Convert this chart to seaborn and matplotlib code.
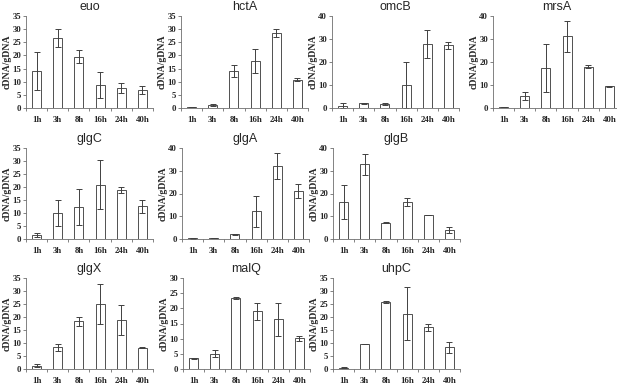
import numpy as np
import pandas as pd
import matplotlib
matplotlib.use('Agg')
import matplotlib.pyplot as plt
import seaborn as sns

# time points
hours = ['1h', '3h', '8h', '16h', '24h', '40h']

# mean cDNA/gDNA and error per gene
euo = [14.0, 26.7, 19.5, 8.8, 7.6, 6.7]
euo_err = [7.3, 3.4, 2.5, 5.0, 2.0, 1.5]
hctA = [0.4, 1.0, 14.0, 18.0, 28.5, 10.7]
hctA_err = [0.1, 0.4, 2.2, 4.6, 1.6, 0.6]
omcB = [1.0, 2.0, 1.7, 10.1, 27.8, 27.2]
omcB_err = [1.2, 0.1, 0.4, 10.0, 5.9, 1.5]
mrsA = [0.4, 5.2, 17.4, 31.1, 18.0, 9.5]
mrsA_err = [0.1, 1.6, 10.3, 6.7, 0.6, 0.2]
glgC = [1.6, 10.1, 12.4, 20.9, 18.9, 12.6]
glgC_err = [0.8, 5.0, 7.0, 9.3, 1.1, 2.5]
glgA = [0.3, 0.4, 2.0, 12.1, 32.2, 21.1]
glgA_err = [0.1, 0.1, 0.3, 6.7, 5.8, 3.1]
glgB = [16.1, 32.8, 7.2, 16.1, 10.5, 4.0]
glgB_err = [7.5, 4.6, 0.3, 1.8, 0.1, 1.4]
glgX = [1.3, 8.3, 18.3, 25.1, 18.9, 8.1]
glgX_err = [0.5, 1.2, 1.6, 7.6, 5.8, 0.2]
malQ = [3.5, 5.0, 23.5, 19.0, 16.4, 10.1]
malQ_err = [0.2, 1.1, 0.3, 2.9, 5.5, 0.8]
uhpC = [0.5, 9.7, 25.7, 21.2, 16.0, 8.3]
uhpC_err = [0.2, 0.1, 0.4, 10.2, 1.5, 2.1]

genes = ['euo', 'hctA', 'omcB', 'mrsA', 'glgC', 'glgA', 'glgB', 'glgX', 'malQ', 'uhpC']
values = [euo, hctA, omcB, mrsA, glgC, glgA, glgB, glgX, malQ, uhpC]
errors = [euo_err, hctA_err, omcB_err, mrsA_err, glgC_err, glgA_err, glgB_err,
          glgX_err, malQ_err, uhpC_err]
ymax = [35, 35, 40, 40, 35, 40, 40, 35, 30, 35]
ystep = [5, 5, 10, 10, 5, 10, 10, 5, 5, 5]

sns.set_style('white')

W, H = 617, 386
fig = plt.figure(figsize=(W / 100, H / 100), dpi=100)

# panel boxes in pixels: (left spine x, top of y range, zero line y)
boxes = [(26, 16, 108), (181, 16, 108), (332, 16, 108), (493, 16, 108),
         (26, 148, 239), (182, 148, 239), (333, 148, 239),
         (26, 278, 369), (183, 278, 369), (333, 278, 369)]
pw = 127

edge = '#6e6e6e'

for gene, vals, errs, top, step, (lx, ty, by) in zip(genes, values, errors, ymax, ystep, boxes):
    ax = fig.add_axes([lx / W, 1 - by / H, pw / W, (by - ty) / H])
    df = pd.DataFrame({'time': hours, 'val': vals})
    sns.barplot(data=df, x='time', y='val', ax=ax, color='white',
                edgecolor='#505050', linewidth=0.7, width=0.42, errorbar=None)
    ax.errorbar(np.arange(len(hours)), vals, yerr=errs, fmt='none',
                ecolor='#404040', elinewidth=0.7, capsize=2, capthick=0.7)
    ax.set_xlim(-0.5, 5.5)
    ax.set_ylim(0, top)
    ax.set_yticks(np.arange(0, top + 1, step))
    ax.set_xticks(np.arange(-0.5, 6, 1), minor=True)
    ax.tick_params(axis='x', which='major', length=0, pad=6)
    ax.tick_params(axis='x', which='minor', length=2, width=0.6, color=edge, direction='out')
    ax.tick_params(axis='y', length=2, width=0.6, color=edge, direction='out', pad=1.5)
    ax.xaxis.set_ticks_position('bottom')
    ax.yaxis.set_ticks_position('left')
    for lab in ax.get_xticklabels() + ax.get_yticklabels():
        lab.set_fontfamily('Liberation Serif')
        lab.set_fontweight('bold')
        lab.set_fontsize(6.3)
    for s in ['top', 'right']:
        ax.spines[s].set_visible(False)
    for s in ['left', 'bottom']:
        ax.spines[s].set_color(edge)
        ax.spines[s].set_linewidth(0.6)
    ax.set_xlabel('')
    ax.set_ylabel('cDNA/gDNA', fontfamily='Liberation Serif', fontweight='bold',
                  fontsize=7, labelpad=0.5)
    ax.set_title(gene, fontfamily='Liberation Sans', fontsize=9, pad=4)

fig.savefig('out.png', dpi=100, facecolor='white')
